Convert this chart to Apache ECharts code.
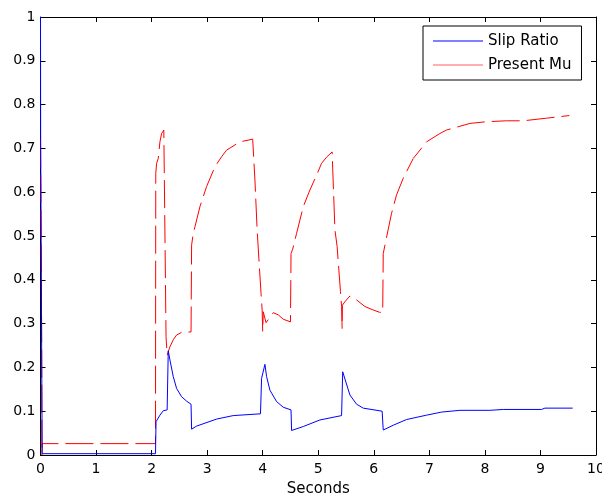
<!DOCTYPE html>
<html>
<head>
<meta charset="utf-8">
<script src="https://cdn.jsdelivr.net/npm/echarts@6/dist/echarts.min.js"></script>
<style>
html,body{margin:0;padding:0;background:#fff;}
#chart{width:602px;height:497px;}
</style>
</head>
<body>
<div id="chart"></div>
<script>
// Slip Ratio (blue, solid)
var slipT = [0, 0.003, 0.03, 2.07, 2.08, 2.15, 2.21, 2.28, 2.30, 2.33, 2.39, 2.45, 2.54, 2.63, 2.71, 2.72, 2.81, 3.17, 3.47, 3.96, 3.98, 4.04, 4.07, 4.13, 4.25, 4.37, 4.51, 4.52, 4.73, 5.03, 5.42, 5.44, 5.57, 5.69, 5.81, 6.15, 6.17, 6.35, 6.59, 6.95, 7.22, 7.55, 8.09, 8.33, 9.02, 9.08, 9.58];
var slipV = [1, 0.72, 0.003, 0.003, 0.076, 0.091, 0.101, 0.103, 0.238, 0.217, 0.179, 0.152, 0.133, 0.123, 0.116, 0.059, 0.066, 0.082, 0.090, 0.094, 0.175, 0.207, 0.179, 0.148, 0.122, 0.109, 0.103, 0.056, 0.065, 0.080, 0.090, 0.190, 0.137, 0.116, 0.107, 0.100, 0.057, 0.068, 0.081, 0.091, 0.098, 0.102, 0.102, 0.104, 0.104, 0.107, 0.107];

// Present Mu (red, dashed)
var muT = [0, 0.02, 0.025, 0.03, 2.07, 2.075, 2.09, 2.12, 2.15, 2.18, 2.22, 2.25, 2.26, 2.28, 2.30, 2.33, 2.39, 2.45, 2.54, 2.71, 2.72, 2.75, 2.78, 2.87, 2.99, 3.14, 3.26, 3.35, 3.59, 3.82, 3.86, 3.90, 3.94, 3.97, 3.99, 4.00, 4.01, 4.06, 4.19, 4.28, 4.37, 4.50, 4.51, 4.54, 4.61, 4.73, 4.85, 4.97, 5.06, 5.15, 5.25, 5.26, 5.30, 5.34, 5.40, 5.42, 5.43, 5.435, 5.48, 5.57, 5.69, 5.84, 5.99, 6.10, 6.16, 6.17, 6.22, 6.32, 6.41, 6.53, 6.71, 6.95, 7.19, 7.31, 7.73, 8.03, 8.39, 8.69, 9.11, 9.52];
var muV = [0.72, 0.30, 0.0, 0.026, 0.026, 0.643, 0.666, 0.677, 0.715, 0.734, 0.742, 0.742, 0.27, 0.228, 0.232, 0.247, 0.263, 0.274, 0.280, 0.281, 0.479, 0.506, 0.521, 0.567, 0.613, 0.658, 0.681, 0.696, 0.715, 0.721, 0.628, 0.514, 0.430, 0.369, 0.331, 0.282, 0.327, 0.302, 0.325, 0.320, 0.310, 0.304, 0.460, 0.470, 0.506, 0.567, 0.605, 0.639, 0.666, 0.680, 0.692, 0.655, 0.514, 0.476, 0.373, 0.339, 0.289, 0.342, 0.350, 0.363, 0.354, 0.339, 0.331, 0.326, 0.325, 0.460, 0.491, 0.552, 0.594, 0.632, 0.677, 0.715, 0.734, 0.742, 0.757, 0.761, 0.763, 0.763, 0.769, 0.775];

var seriesNames = ['Slip Ratio', 'Present Mu'];
var xTicks = {min: 0, max: 10, step: 1};
var yTicks = {min: 0, max: 1, step: 0.1};

function zip(a, b) { return a.map(function (t, i) { return [t, b[i]]; }); }

var FONT = 'DejaVu Sans';
var chart = echarts.init(document.getElementById('chart'), null, {renderer: 'canvas'});

function axisCommon(extra) {
  var base = {
    axisLine: {show: true, onZero: false, lineStyle: {color: '#000', width: 1}},
    axisTick: {show: true, inside: true, length: 5, lineStyle: {color: '#000'}},
    splitLine: {show: false}
  };
  for (var k in extra) base[k] = extra[k];
  return base;
}

chart.setOption({
  animation: false,
  backgroundColor: '#fff',
  grid: {left: 40.5, right: 6, top: 17, bottom: 42, containLabel: false, outerBoundsMode: 'none'},
  legend: {
    show: true,
    data: [
      {name: seriesNames[0], icon: 'rect', itemStyle: {color: '#0000ff'}},
      {name: seriesNames[1], icon: 'rect', itemStyle: {color: '#ff6060'}}
    ],
    orient: 'vertical',
    left: 423, top: 26,
    itemWidth: 50, itemHeight: 1, itemGap: 6,
    padding: [6, 10, 6, 10],
    borderColor: '#000', borderWidth: 1,
    backgroundColor: '#fff',
    borderRadius: 0,
    textStyle: {fontFamily: FONT, fontSize: 15, color: '#000', lineHeight: 18}
  },
  xAxis: [
    axisCommon({
      type: 'value', position: 'bottom',
      min: xTicks.min, max: xTicks.max, interval: xTicks.step,
      name: 'Seconds', nameLocation: 'middle', nameGap: 27,
      nameTextStyle: {fontFamily: FONT, fontSize: 15, color: '#000'},
      axisLabel: {show: true, margin: 7, color: '#000', fontFamily: FONT, fontSize: 14}
    }),
    axisCommon({
      type: 'value', position: 'top',
      min: xTicks.min, max: xTicks.max, interval: xTicks.step,
      axisLabel: {show: false}
    })
  ],
  yAxis: [
    axisCommon({
      type: 'value', position: 'left',
      min: yTicks.min, max: yTicks.max, interval: yTicks.step,
      axisLabel: {show: true, margin: 5, color: '#000', fontFamily: FONT, fontSize: 14,
        formatter: function (v) { return String(+v.toFixed(1)); }}
    }),
    axisCommon({
      type: 'value', position: 'right',
      min: yTicks.min, max: yTicks.max, interval: yTicks.step,
      axisLabel: {show: false}
    })
  ],
  series: [
    {
      name: seriesNames[0], type: 'line', xAxisIndex: 0, yAxisIndex: 0,
      data: zip(slipT, slipV),
      symbol: 'none', showSymbol: false,
      lineStyle: {color: '#0000ff', width: 1},
      itemStyle: {color: '#0000ff'},
      z: 3
    },
    {
      name: seriesNames[1], type: 'line', xAxisIndex: 0, yAxisIndex: 0,
      data: zip(muT, muV),
      symbol: 'none', showSymbol: false,
      lineStyle: {color: '#ff0000', width: 1, type: [28, 7]},
      itemStyle: {color: '#ff0000'},
      z: 2
    }
  ]
});
</script>
</body>
</html>
